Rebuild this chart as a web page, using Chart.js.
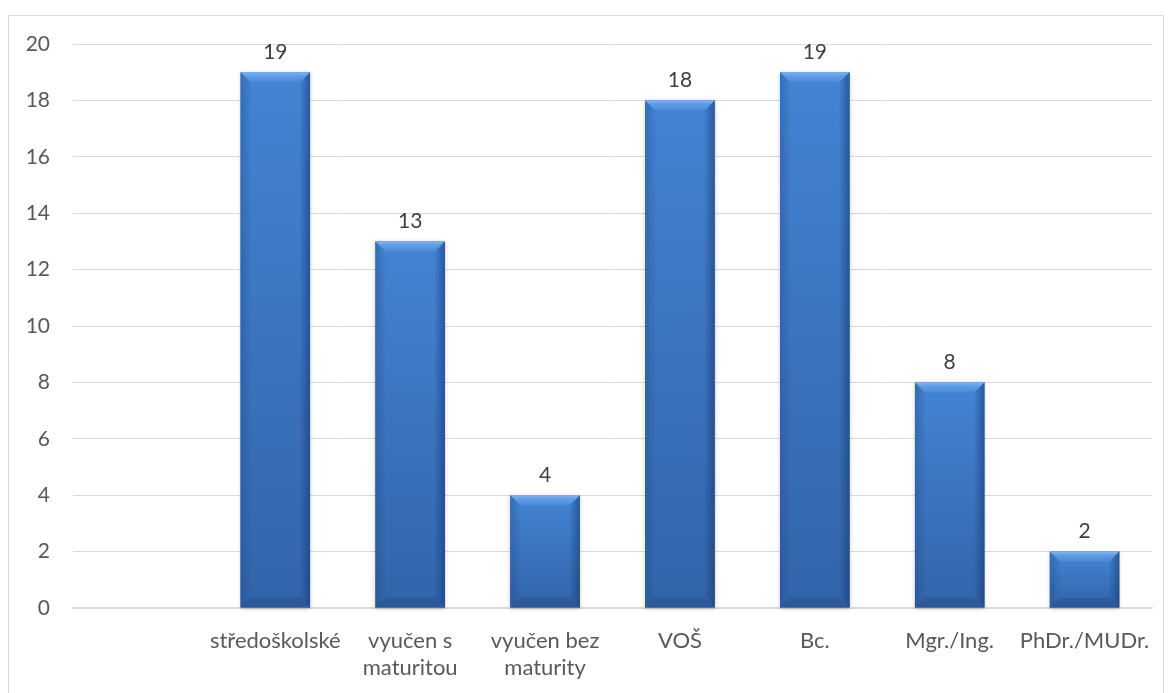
<!DOCTYPE html>
<html>
<head>
<meta charset="utf-8">
<script src="https://cdn.jsdelivr.net/npm/chart.js@4/dist/chart.umd.min.js"></script>
<style>
  html, body { margin: 0; padding: 0; background: #ffffff; }
  #wrap { width: 1172px; height: 693px; position: relative; }
</style>
</head>
<body>
<div id="wrap"><canvas id="chart" width="1172" height="693"></canvas></div>
<script>
// Categories (the first slot is intentionally empty) and counts
const categories = ['', 'středoškolské', ['vyučen s', 'maturitou'], ['vyučen bez', 'maturity'], 'VOŠ', 'Bc.', 'Mgr./Ing.', 'PhDr./MUDr.'];
const counts = [null, 19, 13, 4, 18, 19, 8, 2];
const yTicks = [0, 2, 4, 6, 8, 10, 12, 14, 16, 18, 20];

const FONT = 'Lato, "Open Sans", sans-serif';
const TEXT = '#595959';

// Light outer frame around the whole chart
const framePlugin = {
  id: 'frame',
  beforeDraw(chart) {
    const c = chart.ctx;
    c.save();
    c.fillStyle = '#ffffff';
    c.fillRect(0, 0, chart.width, chart.height);
    c.strokeStyle = '#d9d9d9';
    c.lineWidth = 1;
    c.beginPath();
    c.moveTo(8.5, chart.height);
    c.lineTo(8.5, 15.5);
    c.lineTo(chart.width - 8.5, 15.5);
    c.lineTo(chart.width - 8.5, chart.height);
    c.stroke();
    c.restore();
  }
};

// Beveled, gradient-shaded bar faces painted over each bar element
const bevelPlugin = {
  id: 'bevel',
  afterDatasetsDraw(chart) {
    const c = chart.ctx;
    const meta = chart.getDatasetMeta(0);
    meta.data.forEach((el, i) => {
      if (counts[i] == null) return;
      const { x, y, base, width } = el.getProps(['x', 'y', 'base', 'width'], true);
      const l = x - width / 2, r = x + width / 2, t = y, b = base;
      const h = b - t;
      const bv = Math.min(10, h / 3);
      c.save();
      // soft drop shadow
      c.shadowColor = 'rgba(0,0,0,0.22)';
      c.shadowBlur = 4;
      c.shadowOffsetY = 1;
      const g = c.createLinearGradient(0, t, 0, b);
      g.addColorStop(0, '#4384d3');
      g.addColorStop(1, '#3364aa');
      c.fillStyle = g;
      c.fillRect(l, t, width, h);
      c.restore();
      c.save();
      // top bevel
      c.beginPath();
      c.moveTo(l, t); c.lineTo(r, t); c.lineTo(r - bv, t + bv); c.lineTo(l + bv, t + bv); c.closePath();
      const gt = c.createLinearGradient(0, t, 0, t + bv);
      gt.addColorStop(0, '#86bbf1');
      gt.addColorStop(0.3, '#62a0e6');
      gt.addColorStop(1, '#4a8ad8');
      c.fillStyle = gt; c.fill();
      // left bevel
      c.beginPath();
      c.moveTo(l, t); c.lineTo(l + bv, t + bv); c.lineTo(l + bv, b - bv); c.lineTo(l, b); c.closePath();
      const gl = c.createLinearGradient(l, 0, l + bv, 0);
      gl.addColorStop(0, 'rgba(30,70,130,0.35)');
      gl.addColorStop(1, 'rgba(30,70,130,0.05)');
      c.fillStyle = gl; c.fill();
      // right bevel
      c.beginPath();
      c.moveTo(r, t); c.lineTo(r - bv, t + bv); c.lineTo(r - bv, b - bv); c.lineTo(r, b); c.closePath();
      const gr = c.createLinearGradient(r, 0, r - bv, 0);
      gr.addColorStop(0, 'rgba(20,55,110,0.55)');
      gr.addColorStop(1, 'rgba(20,55,110,0.05)');
      c.fillStyle = gr; c.fill();
      // bottom bevel
      c.beginPath();
      c.moveTo(l, b); c.lineTo(r, b); c.lineTo(r - bv, b - bv); c.lineTo(l + bv, b - bv); c.closePath();
      c.fillStyle = 'rgba(20,55,110,0.25)'; c.fill();
      c.restore();
    });
  }
};

// Value labels above the bars
const valueLabelPlugin = {
  id: 'valueLabels',
  afterDatasetsDraw(chart) {
    const c = chart.ctx;
    const meta = chart.getDatasetMeta(0);
    c.save();
    c.font = '21px ' + FONT;
    c.fillStyle = '#404040';
    c.textAlign = 'center';
    c.textBaseline = 'middle';
    meta.data.forEach((el, i) => {
      if (counts[i] == null) return;
      c.fillText(String(counts[i]), el.x, el.y - 20);
    });
    c.restore();
  }
};

new Chart(document.getElementById('chart'), {
  type: 'bar',
  data: {
    labels: categories,
    datasets: [{
      data: counts,
      backgroundColor: '#3d7bc9',
      borderWidth: 0,
      barPercentage: 1,
      categoryPercentage: 0.515
    }]
  },
  options: {
    responsive: false,
    animation: false,
    layout: { padding: { left: 0, right: 20, top: 44, bottom: 0 } },
    plugins: { legend: { display: false }, tooltip: { enabled: false } },
    scales: {
      x: {
        grid: { display: false, drawTicks: false },
        border: { color: '#d9d9d9', width: 1.5 },
        ticks: { color: TEXT, font: { family: FONT, size: 22, lineHeight: 1.2 }, padding: 20, maxRotation: 0, autoSkip: false },
        afterFit(s) { s.height = 85; }
      },
      y: {
        min: 0, max: 20,
        afterBuildTicks(s) { s.ticks = yTicks.map(v => ({ value: v })); },
        grid: { color: '#d9d9d9', lineWidth: 1, drawTicks: false },
        border: { display: false },
        ticks: { color: TEXT, font: { family: FONT, size: 21 }, padding: 23 },
        afterFit(s) { s.width = 73; }
      }
    }
  },
  plugins: [framePlugin, bevelPlugin, valueLabelPlugin]
});
</script>
</body>
</html>
